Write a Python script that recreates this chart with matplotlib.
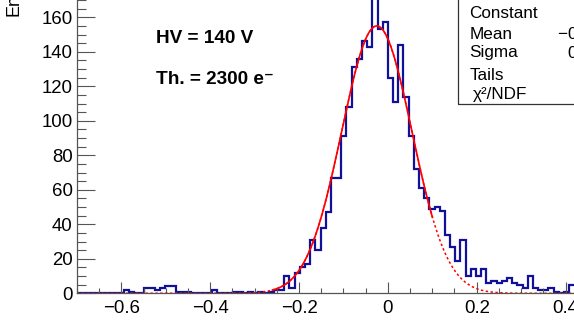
import numpy as np
import matplotlib.pyplot as plt
from matplotlib.ticker import MultipleLocator
from matplotlib.patches import Rectangle

# histogram: 120 bins over [-0.7, 0.7]; counts
x_lo, x_hi, n_bins = -0.7, 0.7, 120
counts = [
    0, 0, 0, 0, 0, 0, 0, 0, 0, 2,
    1, 0, 0, 3, 3, 2, 3, 4, 4, 1,
    1, 1, 0, 0, 0, 0, 2, 0, 0, 0,
    1, 1, 0, 1, 0, 1, 0, 1, 2, 2,
    10, 3, 12, 15, 17, 31, 25, 38, 47, 67,
    67, 91, 108, 131, 136, 146, 143, 180, 153, 157,
    125, 111, 144, 114, 91, 72, 61, 55, 49, 50,
    48, 34, 27, 19, 31, 10, 14, 10, 14, 6,
    7, 6, 7, 9, 6, 5, 3, 10, 3, 2,
    2, 3, 1, 0, 1, 5, 5, 3, 2, 1,
    1, 0, 1, 0, 0, 1, 0, 0, 0, 0,
    0, 0, 0, 0, 0, 0, 0, 0, 0, 0,
]

# gaussian fit
fit_const = 155.0
fit_mean = -0.025
fit_sigma = 0.079
fit_range = (-0.26, 0.10)

labels = ["Constant", "Mean", "Sigma", "Tails", "\u03c7\u00b2/NDF"]
values = ["155.0 \u00b1 2.4", "\u22120.0250 \u00b1 0.0020", "0.0790 \u00b1 0.0018",
          "1.42 \u00b1 0.21", "96.4 / 80"]

plt.rcParams['font.family'] = ['Liberation Sans', 'DejaVu Sans']

W, H = 574, 336
fig = plt.figure(figsize=(W / 100, H / 100), dpi=100)

y_top = 190
ax = fig.add_axes([77.1 / W, (H - 293.3) / H, 621.6 / W, y_top * 1.725 / H])
ax.set_xlim(x_lo, x_hi)
ax.set_ylim(0, y_top)

edges = np.linspace(x_lo, x_hi, n_bins + 1)
ax.stairs(counts, edges, color='#10109a', lw=1.6, baseline=0)

def gaus(x):
    return fit_const * np.exp(-0.5 * ((x - fit_mean) / fit_sigma) ** 2)

xf = np.linspace(x_lo, x_hi, 800)
ax.plot(xf, gaus(xf), color='red', lw=1.1, ls=(0, (1.6, 1.6)))
xs = np.linspace(fit_range[0], fit_range[1], 300)
ax.plot(xs, gaus(xs), color='red', lw=1.2)

for s in ['top', 'right']:
    ax.spines[s].set_visible(False)
for s in ['left', 'bottom']:
    ax.spines[s].set_color('#555555')
    ax.spines[s].set_linewidth(0.9)

ax.xaxis.set_major_locator(MultipleLocator(0.2))
ax.xaxis.set_minor_locator(MultipleLocator(0.05))
ax.yaxis.set_major_locator(MultipleLocator(20))
ax.yaxis.set_minor_locator(MultipleLocator(5))
ax.tick_params(axis='both', which='both', direction='in', color='#555555',
               width=0.8, labelsize=13.4)
ax.tick_params(axis='x', which='major', length=7.7, pad=5)
ax.tick_params(axis='x', which='minor', length=3.8)
ax.tick_params(axis='y', which='major', length=13, pad=3.3)
ax.tick_params(axis='y', which='minor', length=6.5)
ax.xaxis.set_major_formatter(plt.FuncFormatter(
    lambda v, p: '0' if abs(v) < 1e-9 else f'{v:.1f}'.replace('-', '\u2212')))

def px(x, y):
    return x / W, 1 - y / H

fig.text(*px(23, 15.5), "Entries", rotation=90, ha='right', va='bottom', fontsize=13)

fig.text(*px(155.7, 42.7), "HV = 140 V", fontsize=13.7, fontweight='bold', va='baseline')
fig.text(*px(155.7, 84.3), "Th. = 2300 e\u207b", fontsize=13.7, fontweight='bold', va='baseline')

# stats box
bx0, by0 = px(457.7, 104)
fig.patches.append(Rectangle((bx0, by0), 0.5, 0.5, transform=fig.transFigure,
                             fill=False, ec='#333333', lw=0.9))
rows_y = [18.3, 39.3, 57.5, 80, 99.3]
for lab, val, yy in zip(labels, values, rows_y):
    xl = 473 if lab.startswith('\u03c7') else 469.5
    fig.text(*px(xl, yy), lab, fontsize=12.3, va='baseline')
    fig.text(*px(691, yy), val, fontsize=12.3, va='baseline', ha='right')

fig.savefig('out.png', dpi=100)
